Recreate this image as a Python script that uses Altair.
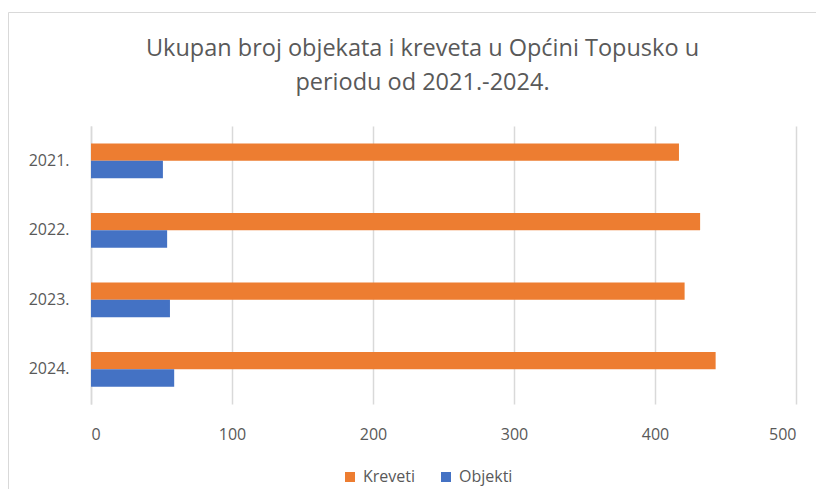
import altair as alt
import pandas as pd

years = ["2021.", "2022.", "2023.", "2024."]
series = ["Kreveti", "Objekti"]
kreveti = [417, 432, 421, 443]
objekti = [51, 54, 56, 59]
x_ticks = [0, 100, 200, 300, 400, 500]
title_line1 = "Ukupan broj objekata i kreveta u Općini Topusko u"
title_line2 = "periodu od 2021.-2024."
colors = ["#ED7D31", "#4472C4"]

rows = []
for i, y in enumerate(years):
    rows.append({"year": y, "series": "Kreveti", "value": kreveti[i]})
    rows.append({"year": y, "series": "Objekti", "value": objekti[i]})
df = pd.DataFrame(rows)

FONT = "Open Sans"
GRAY = "#595959"

one = pd.DataFrame({"a": [0]})

border = alt.Chart(one).mark_rect(
    filled=False, stroke="#D9D9D9", strokeWidth=1
).encode(
    x=alt.value(-82.5), x2=alt.value(760), y=alt.value(-113.5), y2=alt.value(400)
)

t1 = alt.Chart(one).mark_text(
    font=FONT, fontSize=23.5, color=GRAY, align="center", baseline="middle"
).encode(x=alt.value(331.5), y=alt.value(-77), text=alt.value(title_line1))

t2 = alt.Chart(one).mark_text(
    font=FONT, fontSize=23.5, color=GRAY, align="center", baseline="middle"
).encode(x=alt.value(331.5), y=alt.value(-43), text=alt.value(title_line2))

bars = alt.Chart(df).mark_bar().encode(
    x=alt.X("value:Q",
            scale=alt.Scale(domain=[0, 500], nice=False),
            axis=alt.Axis(values=x_ticks, title=None, grid=True, gridColor="#D9D9D9",
                          gridWidth=1.5, domain=False, ticks=False, labelPadding=22,
                          labelFontSize=16, labelColor=GRAY, labelFont=FONT)),
    y=alt.Y("year:N", sort=years,
            scale=alt.Scale(paddingInner=0.5, paddingOuter=0.25),
            axis=alt.Axis(title=None, ticks=False, domain=True, domainColor="#D9D9D9",
                          domainWidth=1.5, labelPadding=22, labelFontSize=16,
                          labelColor=GRAY, labelFont=FONT, grid=False)),
    yOffset=alt.YOffset("series:N", sort=series),
    color=alt.Color("series:N",
                    scale=alt.Scale(domain=series, range=colors),
                    legend=alt.Legend(title=None, orient="none", direction="horizontal",
                                      legendX=251, legendY=343, symbolType="square",
                                      symbolSize=100, symbolStrokeWidth=0,
                                      labelFontSize=16, labelColor=GRAY, labelFont=FONT,
                                      labelOffset=5, columnPadding=22)),
)

chart = alt.layer(border, bars, t1, t2).properties(
    width=705,
    height=278,
    autosize=alt.AutoSizeParams(type="none"),
    padding={"left": 83, "top": 118, "right": 20, "bottom": 85},
).configure_view(stroke=None)

chart.save("out.html", embed_options={"renderer": "svg", "actions": False})
